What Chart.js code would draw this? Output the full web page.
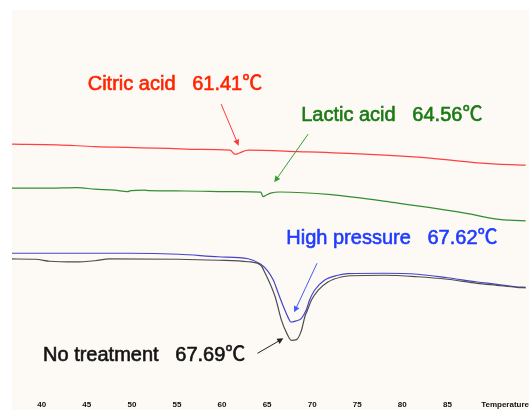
<!DOCTYPE html>
<html>
<head>
<meta charset="utf-8">
<script src="https://cdn.jsdelivr.net/npm/chart.js@4.4.1/dist/chart.umd.min.js"></script>
<style>
  html, body { margin: 0; padding: 0; background: #ffffff; }
  #wrap { width: 529px; height: 410px; }
</style>
</head>
<body>
<div id="wrap"><canvas id="dsc" width="529" height="410"></canvas></div>
<script>
// DSC thermograms: temperature (°C) vs heat flow (arbitrary units)
const citricTemp = [36.7, 41.7, 45.9, 49.5, 54.1, 57.4, 60.9, 61.41, 61.7, 62.1, 62.9, 68.5, 75.8, 83.1, 88.0, 90.5, 93.7];
const citricFlow = [-13.40, -13.47, -13.65, -13.73, -13.83, -13.93, -13.99, -14.40, -14.38, -14.22, -14.00, -14.15, -14.40, -14.80, -15.25, -15.40, -15.50];

const lacticTemp = [36.7, 40.9, 43.9, 45.9, 48.1, 49.5, 49.9, 51.4, 51.9, 55.8, 61.8, 64.3, 64.56, 64.9, 65.4, 66.4, 72.1, 79.5, 86.8, 90.5, 91.9, 93.7];
const lacticFlow = [-17.80, -17.80, -17.75, -17.90, -18.00, -18.15, -18.05, -18.00, -18.05, -18.08, -18.15, -18.20, -18.65, -18.50, -18.30, -18.18, -18.45, -19.30, -20.27, -20.90, -21.00, -21.07];

const pressureTemp = [36.7, 49.7, 55.2, 59.6, 62.9, 64.3, 65.1, 65.7, 66.24, 66.98, 67.40, 67.62, 68.23, 68.78, 69.33, 69.70, 70.26, 71.36, 72.85, 73.95, 78.0, 81.7, 85.0, 88.3, 90.5, 92.7, 93.7];
const pressureFlow = [-24.30, -24.30, -24.40, -24.65, -24.85, -25.40, -26.10, -27.00, -28.30, -30.00, -30.85, -31.17, -31.05, -30.83, -30.00, -29.00, -28.00, -27.00, -26.50, -26.33, -26.30, -26.40, -26.75, -27.17, -27.40, -27.67, -27.70];

const controlTemp = [36.7, 39.3, 40.9, 43.7, 45.9, 47.5, 55.2, 59.6, 62.9, 64.3, 64.8, 65.9, 66.6, 67.2, 67.69, 68.26, 68.81, 69.18, 69.47, 69.91, 70.65, 71.75, 73.22, 74.28, 78.0, 81.7, 85.0, 88.3, 90.5, 92.7, 93.7];
const controlFlow = [-24.87, -24.90, -25.10, -25.17, -25.05, -24.87, -24.90, -25.00, -25.15, -25.50, -26.33, -28.67, -31.00, -32.33, -33.00, -32.93, -32.00, -30.67, -30.00, -29.00, -28.00, -27.17, -26.67, -26.55, -26.50, -26.65, -26.90, -27.30, -27.50, -27.70, -27.75];

const sampleNames = ['Citric acid', 'Lactic acid', 'High pressure', 'No treatment'];
const peakTemps = [61.41, 64.56, 67.62, 67.69];

const tickValues = [40, 45, 50, 55, 60, 65, 70, 75, 80, 85, 91.4];
const tickLabels = ['40', '45', '50', '55', '60', '65', '70', '75', '80', '85', 'Temperature'];

const toPoints = (xs, ys) => xs.map((x, i) => ({ x: x, y: ys[i] }));

// Label placement and arrow geometry, in data units (°C, heat flow)
const callouts = [
  { text: [45.1, -7.4],  from: [59.9, -9.4],  to: [61.84, -13.55], textColor: '#ff2400', arrowColor: '#ff3a3a' },
  { text: [68.78, -10.5], from: [69.55, -12.4], to: [65.8, -17.2],  textColor: '#1b7a16', arrowColor: '#35a035' },
  { text: [67.13, -22.8], from: [70.54, -25.3], to: [68.0, -30.2],  textColor: '#1f3cff', arrowColor: '#3f5cff' },
  { text: [40.14, -34.5], from: [63.93, -34.3], to: [66.8, -32.8],  textColor: '#141414', arrowColor: '#222222' }
];

const backdrop = {
  id: 'backdrop',
  beforeDraw(chart) {
    const { ctx, chartArea } = chart;
    ctx.save();
    ctx.fillStyle = '#fdf9f4';
    ctx.fillRect(chartArea.left, chartArea.top, chart.width - chartArea.left, chart.height - chartArea.top);
    ctx.restore();
  }
};

const peakCallouts = {
  id: 'peakCallouts',
  afterDatasetsDraw(chart) {
    const { ctx } = chart;
    const xs = chart.scales.x, ys = chart.scales.y;
    ctx.save();
    callouts.forEach((c, i) => {
      const x1 = xs.getPixelForValue(c.from[0]), y1 = ys.getPixelForValue(c.from[1]);
      const x2 = xs.getPixelForValue(c.to[0]),   y2 = ys.getPixelForValue(c.to[1]);
      const ang = Math.atan2(y2 - y1, x2 - x1);
      ctx.strokeStyle = c.arrowColor;
      ctx.fillStyle = c.arrowColor;
      ctx.lineWidth = 1;
      ctx.beginPath();
      ctx.moveTo(x1, y1);
      ctx.lineTo(x2 - 4 * Math.cos(ang), y2 - 4 * Math.sin(ang));
      ctx.stroke();
      const hl = 6, hw = 3;
      ctx.beginPath();
      ctx.moveTo(x2, y2);
      ctx.lineTo(x2 - hl * Math.cos(ang) + hw * Math.sin(ang), y2 - hl * Math.sin(ang) - hw * Math.cos(ang));
      ctx.lineTo(x2 - hl * Math.cos(ang) - hw * Math.sin(ang), y2 - hl * Math.sin(ang) + hw * Math.cos(ang));
      ctx.closePath();
      ctx.fill();

      const tx = xs.getPixelForValue(c.text[0]), ty = ys.getPixelForValue(c.text[1]);
      const label = sampleNames[i] + '   ' + peakTemps[i].toFixed(2) + '\u2103';
      ctx.fillStyle = c.textColor;
      ctx.strokeStyle = c.textColor;
      ctx.lineWidth = 0.6;
      ctx.font = '20px "Liberation Sans", "Noto Sans CJK JP", sans-serif';
      ctx.textAlign = 'left';
      ctx.textBaseline = 'middle';
      ctx.fillText(label, tx, ty);
      ctx.strokeText(label, tx, ty);
    });
    ctx.restore();
  }
};

const lineStyle = { borderWidth: 1.2, pointRadius: 0, fill: false, cubicInterpolationMode: 'monotone' };

new Chart(document.getElementById('dsc'), {
  type: 'line',
  data: {
    datasets: [
      Object.assign({ label: sampleNames[3], data: toPoints(controlTemp, controlFlow), borderColor: '#4d4d4d' }, lineStyle),
      Object.assign({ label: sampleNames[2], data: toPoints(pressureTemp, pressureFlow), borderColor: '#4545cc' }, lineStyle),
      Object.assign({ label: sampleNames[1], data: toPoints(lacticTemp, lacticFlow), borderColor: '#2f8f2f' }, lineStyle),
      Object.assign({ label: sampleNames[0], data: toPoints(citricTemp, citricFlow), borderColor: '#ff4040' }, lineStyle)
    ]
  },
  options: {
    responsive: false,
    animation: false,
    devicePixelRatio: 1,
    layout: { padding: { left: 12, top: 10, right: 0, bottom: 0 }, autoPadding: false },
    plugins: { legend: { display: false }, tooltip: { enabled: false } },
    scales: {
      x: {
        type: 'linear',
        min: 36.7,
        max: 93.7,
        grid: { display: false, drawTicks: false },
        border: { display: false },
        afterBuildTicks(scale) { scale.ticks = tickValues.map(v => ({ value: v })); },
        ticks: {
          autoSkip: false,
          maxRotation: 0,
          minRotation: 0,
          padding: 0,
          color: '#111111',
          font: { family: '"Liberation Sans Narrow", "Liberation Sans", sans-serif', size: 8, weight: 'bold' },
          callback: (v, i) => tickLabels[i]
        }
      },
      y: {
        type: 'linear',
        display: false,
        min: -39,
        max: 0
      }
    }
  },
  plugins: [backdrop, peakCallouts]
});
</script>
</body>
</html>
